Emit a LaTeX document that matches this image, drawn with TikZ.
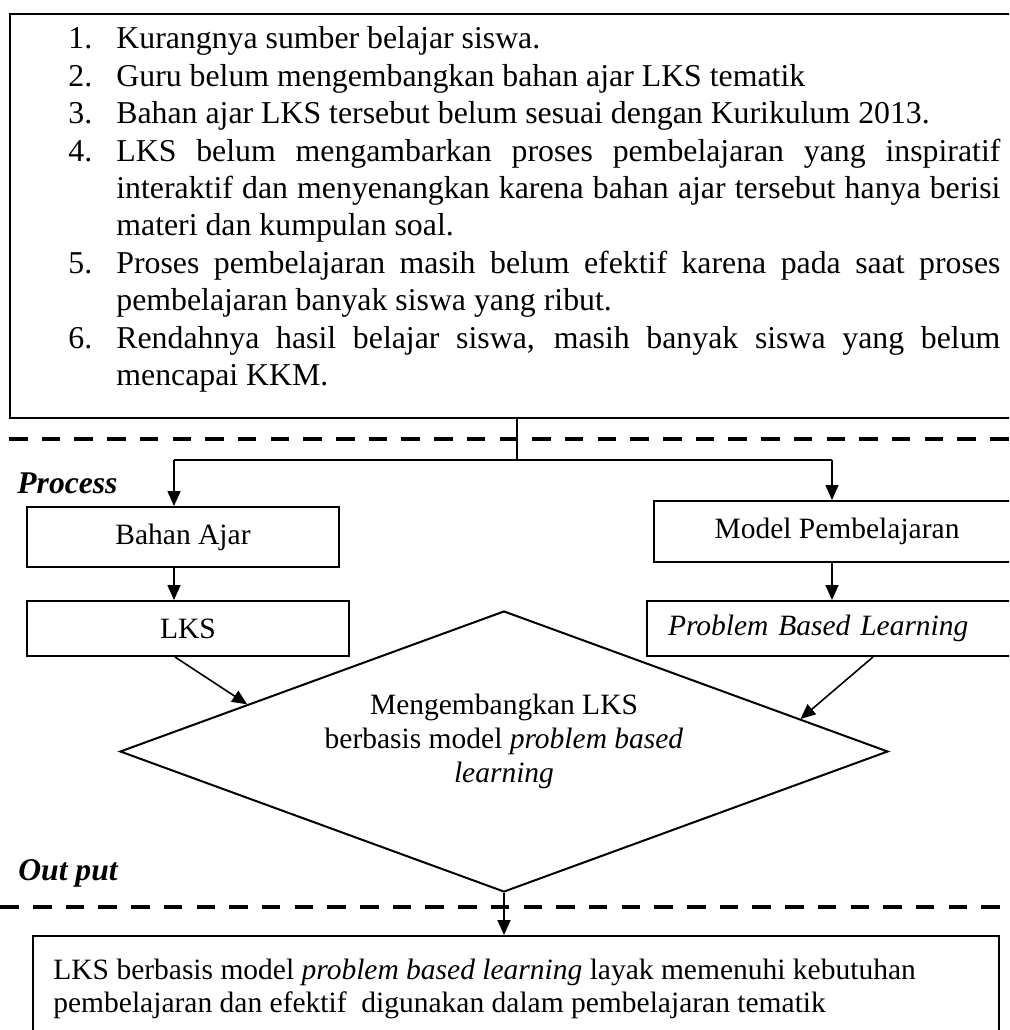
\documentclass[tikz,border=0pt]{standalone}
\usepackage{fontspec}
\setmainfont{Liberation Serif}
\usetikzlibrary{arrows.meta,shapes.geometric,calc}
\begin{document}
\begin{tikzpicture}[x=0.5pt,y=-0.5pt,
  box/.style={draw, line width=1pt, inner sep=0pt},
  conn/.style={line width=0.8pt},
  arr/.style={conn, -{Triangle[length=7.5pt,width=6.5pt]}},
  sep/.style={line width=2.3pt, dash pattern=on 9.25pt off 7.1pt},
  lst/.style={font=\fontsize{15.9pt}{18pt}\selectfont, inner sep=0pt, anchor=base west},
  txt/.style={font=\fontsize{14.75pt}{17pt}\selectfont, inner sep=0pt},
  lbl/.style={font=\fontsize{15.8pt}{18pt}\selectfont\bfseries\itshape, inner sep=0pt, anchor=base west}
]
\useasboundingbox (0,0) rectangle (1009,1030);
\clip (0,0) rectangle (1009,1030);

% problem box
\node[box, anchor=north west, minimum width=505.5pt, minimum height=202.15pt] (prob) at (9,12.7) {};
\node[lst] (n1) at (68,48.8) {1.};
\node[lst] (t1) at (116,48.8) {Kurangnya sumber belajar siswa.};
\node[lst] (n2) at (68,86.2) {2.};
\node[lst] (t2) at (116,86.2) {Guru belum mengembangkan bahan ajar LKS tematik};
\node[lst] (n3) at (68,123.6) {3.};
\node[lst] (t3) at (116,123.6) {Bahan ajar LKS tersebut belum sesuai dengan Kurikulum 2013.};
\node[lst] (n4) at (68,161) {4.};
\node[lst] (t4a) at (116,161) {\makebox[442pt][s]{LKS belum mengambarkan proses pembelajaran yang inspiratif}};
\node[lst] (t4b) at (116,198.4) {\makebox[442pt][s]{interaktif dan menyenangkan karena bahan ajar tersebut hanya berisi}};
\node[lst] (t4c) at (116,235.8) {materi dan kumpulan soal.};
\node[lst] (n5) at (68,273.2) {5.};
\node[lst] (t5a) at (116,273.2) {\makebox[442pt][s]{Proses pembelajaran masih belum efektif karena pada saat proses}};
\node[lst] (t5b) at (116,310.6) {pembelajaran banyak siswa yang ribut.};
\node[lst] (n6) at (68,348) {6.};
\node[lst] (t6a) at (116,348) {\makebox[442pt][s]{Rendahnya hasil belajar siswa, masih banyak siswa yang belum}};
\node[lst] (t6b) at (116,385.4) {mencapai KKM.};

% separators
\draw[sep] (9,439) -- (1009,439);
\draw[sep] (0.3,907) -- (1009,907);

% labels
\node[lbl] (proc) at (17,493) {Process};
\node[lbl] (outp) at (18,880) {Out put};

% process boxes
\node[box, txt, minimum width=156pt, minimum height=30pt] (bahan) at (183,537) {Bahan Ajar};
\node[box, txt, minimum width=161pt, minimum height=27.5pt] (lks) at (188,628.5) {LKS};
\node[box, txt, minimum width=183pt, minimum height=30.5pt] (model) at (837,531.5) {Model Pembelajaran};
\node[box, txt, anchor=west, minimum height=27.5pt, inner xsep=10.5pt, text width=179pt, align=left] (pbl) at (646,628.5) {\textit{Problem Based Learning}};

% diamond
\node[draw, line width=1pt, diamond, minimum width=384pt, minimum height=140.5pt, inner sep=0pt] (dia) at (504,751.5) {};
\node[txt, anchor=base] (d1) at (504,714) {Mengembangkan LKS};
\node[txt, anchor=base] (d2) at (504,748) {berbasis model \textit{problem based}};
\node[txt, anchor=base] (d3) at (504,782) {\textit{learning}};

% output box
\node[box, anchor=north west, minimum width=483pt, minimum height=60pt] (out) at (32,935) {};
\node[txt, anchor=base west] (o1) at (53,979) {LKS berbasis model \textit{problem based learning} layak memenuhi kebutuhan};
\node[txt, anchor=base west] (o2) at (53,1012) {pembelajaran dan efektif\ \ digunakan dalam pembelajaran tematik};

% connectors
\coordinate (jn) at (517,460);
\coordinate (bl) at (174,460);
\coordinate (br) at (832,460);
\coordinate (ll) at (175,0);
\coordinate (rr) at (873,0);
\draw[conn] (prob.south -| jn) -- (jn);
\draw[conn] (bl) -- (br);
\draw[arr] (bl) -- (bl |- bahan.north);
\draw[arr] (br) -- (br |- model.north);
\draw[arr] (bl |- bahan.south) -- (bl |- lks.north);
\draw[arr] (br |- model.south) -- (br |- pbl.north);
\draw[arr] (ll |- lks.south) -- ($(dia.west)!0.333!(dia.north)$);
\draw[arr] (rr |- pbl.south) -- ($(dia.north)!0.77!(dia.east)$);
\draw[arr] (dia.south) -- (dia.south |- out.north);
\end{tikzpicture}
\end{document}
